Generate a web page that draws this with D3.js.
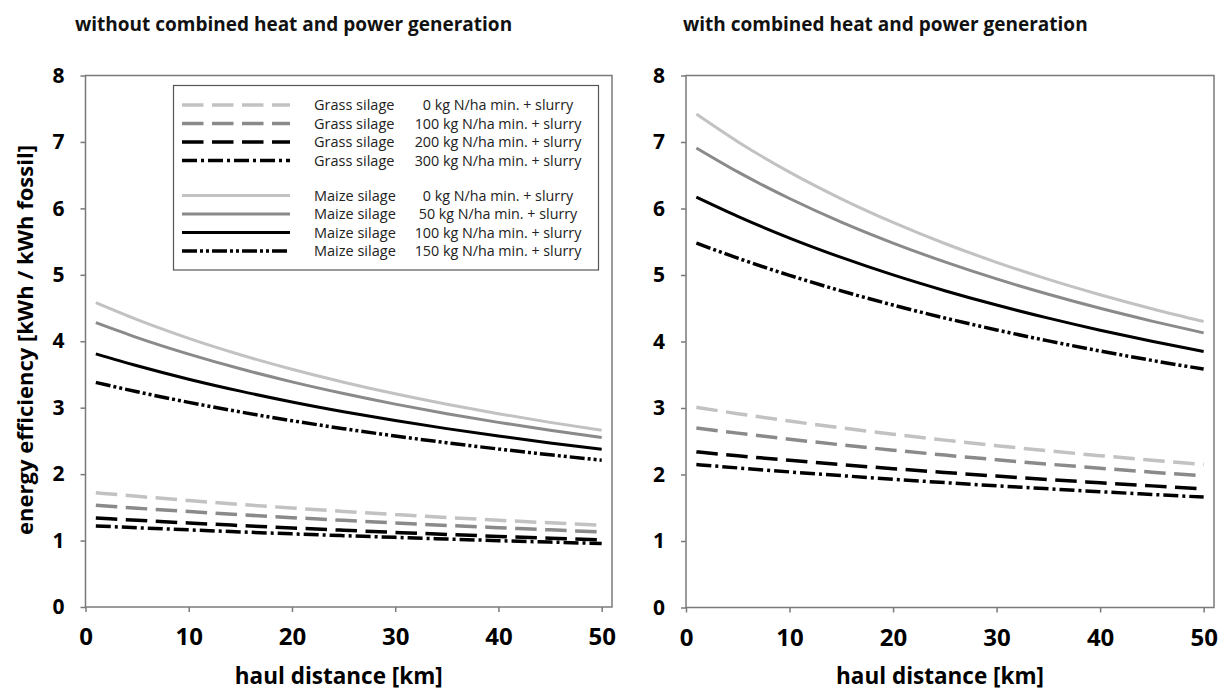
<!DOCTYPE html>
<html><head><meta charset="utf-8">
<script src="https://cdn.jsdelivr.net/npm/d3@7"></script>
<style>
body{margin:0;background:#fff;}
text{font-family:"Open Sans","Noto Sans",sans-serif;}
</style></head>
<body><svg id="c" width="1229" height="691"></svg>
<script>
// haul distance [km]
const distances = [1, 5, 10, 15, 20, 25, 30, 35, 40, 45, 50];
const xTicks = [0, 10, 20, 30, 40, 50];
const yTicks = [0, 1, 2, 3, 4, 5, 6, 7, 8];
const panelTitles = ["without combined heat and power generation", "with combined heat and power generation"];

// without CHP
const leftGrass0   = [1.72, 1.666, 1.603, 1.544, 1.490, 1.439, 1.392, 1.348, 1.306, 1.267, 1.23];
const leftGrass100 = [1.53, 1.487, 1.437, 1.389, 1.345, 1.304, 1.265, 1.228, 1.194, 1.161, 1.13];
const leftGrass200 = [1.34, 1.305, 1.264, 1.226, 1.189, 1.155, 1.123, 1.092, 1.063, 1.036, 1.01];
const leftGrass300 = [1.22, 1.193, 1.161, 1.130, 1.101, 1.074, 1.048, 1.023, 0.999, 0.977, 0.955];
const leftMaize0   = [4.58, 4.325, 4.044, 3.797, 3.578, 3.384, 3.209, 3.052, 2.909, 2.779, 2.66];
const leftMaize50  = [4.28, 4.055, 3.806, 3.585, 3.389, 3.213, 3.054, 2.910, 2.779, 2.660, 2.55];
const leftMaize100 = [3.81, 3.631, 3.429, 3.249, 3.087, 2.940, 2.806, 2.685, 2.573, 2.470, 2.375];
const leftMaize150 = [3.38, 3.240, 3.080, 2.936, 2.804, 2.684, 2.574, 2.472, 2.378, 2.291, 2.21];

// with CHP
const rightGrass0   = [3.01, 2.915, 2.804, 2.701, 2.606, 2.517, 2.434, 2.356, 2.283, 2.215, 2.15];
const rightGrass100 = [2.70, 2.622, 2.531, 2.446, 2.366, 2.292, 2.222, 2.156, 2.094, 2.035, 1.98];
const rightGrass200 = [2.34, 2.282, 2.214, 2.149, 2.088, 2.031, 1.976, 1.925, 1.876, 1.829, 1.785];
const rightGrass300 = [2.15, 2.099, 2.039, 1.983, 1.929, 1.878, 1.830, 1.785, 1.741, 1.700, 1.66];
const rightMaize0   = [7.42, 7.005, 6.547, 6.146, 5.791, 5.474, 5.191, 4.935, 4.704, 4.493, 4.30];
const rightMaize50  = [6.91, 6.550, 6.150, 5.795, 5.480, 5.197, 4.941, 4.710, 4.499, 4.307, 4.13];
const rightMaize100 = [6.17, 5.881, 5.555, 5.264, 5.001, 4.764, 4.548, 4.351, 4.170, 4.004, 3.85];
const rightMaize150 = [5.48, 5.253, 4.995, 4.761, 4.548, 4.353, 4.174, 4.009, 3.857, 3.716, 3.585];

const seriesNames = ["Grass silage", "Grass silage", "Grass silage", "Grass silage",
                     "Maize silage", "Maize silage", "Maize silage", "Maize silage"];
const seriesDoses = ["0 kg N/ha min. + slurry", "100 kg N/ha min. + slurry", "200 kg N/ha min. + slurry", "300 kg N/ha min. + slurry",
                     "0 kg N/ha min. + slurry", "50 kg N/ha min. + slurry", "100 kg N/ha min. + slurry", "150 kg N/ha min. + slurry"];
const seriesColors = ["#c2c2c2", "#8a8a8a", "#000", "#000", "#c2c2c2", "#8a8a8a", "#000", "#000"];
const seriesDash = ["21.5,8.5", "21.5,8.5", "21.5,8.5", "15,4,3,4", null, null, null, "15,3,3,3,3,3"];
const seriesWidth = [3.5, 3.5, 3.5, 3.5, 3, 3, 3, 3.5];

const panels = [
  {title: panelTitles[0], data: [leftGrass0, leftGrass100, leftGrass200, leftGrass300, leftMaize0, leftMaize50, leftMaize100, leftMaize150],
   x0: 85.5, x1: 612, y0: 607, y1: 75.5, titleX: 75, legend: true},
  {title: panelTitles[1], data: [rightGrass0, rightGrass100, rightGrass200, rightGrass300, rightMaize0, rightMaize50, rightMaize100, rightMaize150],
   x0: 686, x1: 1214, y0: 607.5, y1: 75.5, titleX: 683, legend: false}
];

const svg = d3.select("#c");

panels.forEach(p => {
  const x = d3.scaleLinear().domain([0, 51]).range([p.x0, p.x1]);
  const y = d3.scaleLinear().domain([0, 8]).range([p.y0, p.y1]);
  const g = svg.append("g");

  g.append("text").attr("x", p.titleX).attr("y", 31).attr("font-size", 19).attr("font-weight", 700)
    .attr("fill", "#111").text(p.title);

  // frame
  g.append("rect").attr("x", p.x0).attr("y", p.y1).attr("width", p.x1 - p.x0).attr("height", p.y0 - p.y1)
    .attr("fill", "none").attr("stroke", "#7a7a7a").attr("stroke-width", 1.5);

  const ya = g.append("g").attr("transform", `translate(${p.x0},0)`)
    .call(d3.axisLeft(y).tickValues(yTicks).tickFormat(d3.format("d")).tickSize(5).tickPadding(16));
  ya.select(".domain").remove();
  ya.selectAll("line").attr("stroke", "#7a7a7a").attr("stroke-width", 1.5);
  ya.selectAll("text").attr("font-size", 21).attr("font-weight", 700).attr("fill", "#000")
    .attr("font-family", "'Open Sans',sans-serif");

  const xa = g.append("g").attr("transform", `translate(0,${p.y0})`)
    .call(d3.axisBottom(x).tickValues(xTicks).tickFormat(d3.format("d")).tickSize(5).tickPadding(16));
  xa.select(".domain").remove();
  xa.selectAll("line").attr("stroke", "#7a7a7a").attr("stroke-width", 1.5);
  xa.selectAll("text").attr("font-size", 24).attr("font-weight", 700).attr("fill", "#000")
    .attr("font-family", "'Open Sans',sans-serif");

  g.append("text").attr("x", (p.x0 + p.x1) / 2 - 10).attr("y", 684).attr("text-anchor", "middle")
    .attr("font-size", 22.5).attr("font-weight", 700).attr("fill", "#000").text("haul distance [km]");

  const line = d3.line().x((d, i) => x(distances[i])).y(d => y(d)).curve(d3.curveMonotoneX);
  p.data.forEach((vals, k) => {
    g.append("path").datum(vals).attr("d", line).attr("fill", "none")
      .attr("stroke", seriesColors[k]).attr("stroke-width", seriesWidth[k])
      .attr("stroke-dasharray", seriesDash[k]);
  });

  if (p.legend) {
    const lg = g.append("g");
    lg.append("rect").attr("x", 173.5).attr("y", 85.5).attr("width", 425).attr("height", 184.5)
      .attr("fill", "#fff").attr("stroke", "#555").attr("stroke-width", 1.2);
    const rowY = [105, 123.5, 142, 160.5, 195.5, 214, 232.5, 251];
    seriesNames.forEach((nm, k) => {
      lg.append("line").attr("x1", 182).attr("x2", 290).attr("y1", rowY[k]).attr("y2", rowY[k])
        .attr("stroke", seriesColors[k]).attr("stroke-width", seriesWidth[k])
        .attr("stroke-dasharray", seriesDash[k]);
      lg.append("text").attr("x", 314).attr("y", rowY[k] + 5).attr("font-size", 14.5).attr("fill", "#222").text(nm);
      lg.append("text").attr("x", 498).attr("y", rowY[k] + 5).attr("text-anchor", "middle")
        .attr("font-size", 14.3).attr("fill", "#222").text(seriesDoses[k]);
    });
  }
});

svg.append("text").attr("transform", "translate(33,340) rotate(-90)").attr("text-anchor", "middle")
  .attr("font-size", 22).attr("font-weight", 700).attr("fill", "#000").text("energy efficiency [kWh / kWh fossil]");
</script></body></html>
